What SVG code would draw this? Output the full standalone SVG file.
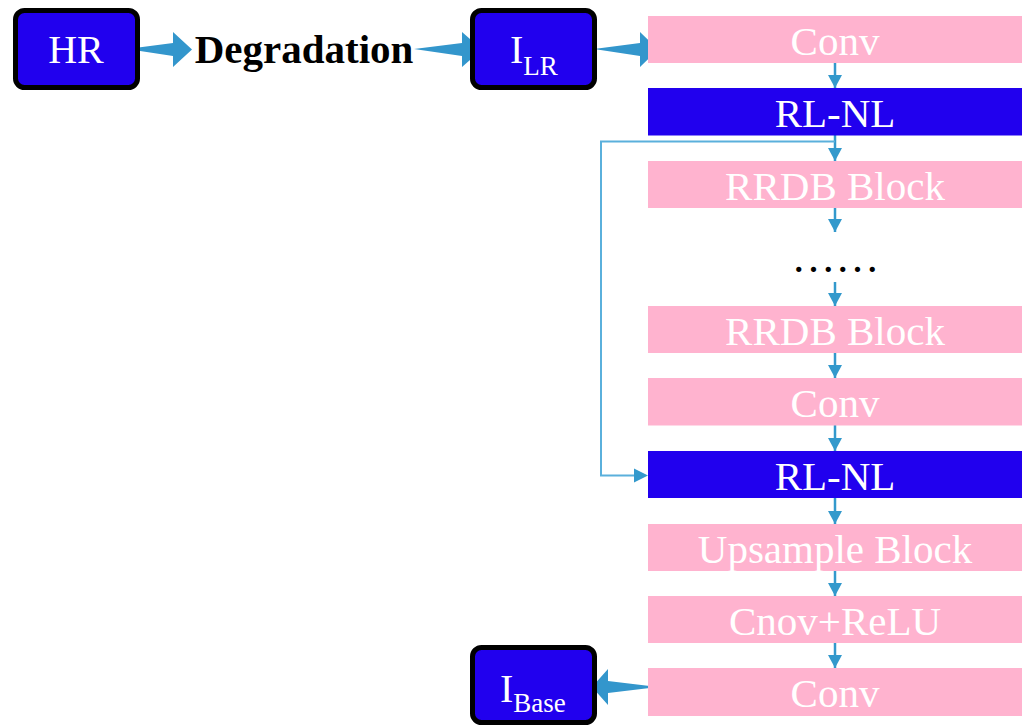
<svg xmlns="http://www.w3.org/2000/svg" width="1032" height="727" viewBox="0 0 1032 727">
<style>
.nb{fill:#2100EE;stroke:#000;stroke-width:5}
.pk{fill:#FFB3CF}
.bl{fill:#2100EE}
.t{font-family:"Liberation Serif","Times New Roman",serif;fill:#fff;text-anchor:middle;font-size:41px}
.ts{font-family:"Liberation Serif","Times New Roman",serif;fill:#fff;font-size:40px}
.sub{font-size:27px}
.big{fill:#3396CC}
.c{stroke:#3399CC;stroke-width:2.5;fill:none}
.sk{stroke:#5AB0DC;stroke-width:2;fill:none}
</style>
<defs>
<marker id="ah" markerUnits="userSpaceOnUse" markerWidth="14" markerHeight="14" refX="13" refY="7" orient="auto">
<path d="M0,0 L13,7 L0,14 z" fill="#3399CC"/>
</marker>
</defs>
<rect width="1032" height="727" fill="#fff"/>
<g id="connectors">
<polygon class="big" points="127,49 173,43 173,32 192,49.5 173,67 173,56"/>
<polygon class="big" points="414,49 462,43 462,32 482,49.5 462,67 462,56"/>
<polygon class="big" points="594,49 640,43 640,32 658,49.5 640,67 640,56"/>
<polygon class="big" points="658,687 608,681 608,669 592,687 608,705 608,693"/>
<line class="c" x1="835" y1="63" x2="835" y2="88" marker-end="url(#ah)"/>
<line class="c" x1="835" y1="135" x2="835" y2="161" marker-end="url(#ah)"/>
<line class="c" x1="835" y1="208" x2="835" y2="232" marker-end="url(#ah)"/>
<line class="c" x1="835" y1="282" x2="835" y2="306" marker-end="url(#ah)"/>
<line class="c" x1="835" y1="353" x2="835" y2="378" marker-end="url(#ah)"/>
<line class="c" x1="835" y1="425" x2="835" y2="451" marker-end="url(#ah)"/>
<line class="c" x1="835" y1="498" x2="835" y2="524" marker-end="url(#ah)"/>
<line class="c" x1="835" y1="571" x2="835" y2="596" marker-end="url(#ah)"/>
<line class="c" x1="835" y1="643" x2="835" y2="668" marker-end="url(#ah)"/>
<path class="sk" d="M835,141.5 H601 V475.5 H634"/>
<path d="M634,468.5 L648,475.5 L634,482.5 z" fill="#3399CC"/>
</g>
<g id="hr">
<rect class="nb" x="15.5" y="10.5" width="122" height="77" rx="9"/>
<text class="t" x="76" y="63" style="font-size:40px">HR</text>
</g>
<g id="degradation">
<text x="304" y="63" style="font-family:'Liberation Serif','Times New Roman',serif;font-weight:bold;font-size:41px;text-anchor:middle;fill:#000">Degradation</text>
</g>
<g id="ilr">
<rect class="nb" x="472.5" y="10.5" width="122" height="77" rx="9"/>
<text class="ts" x="510" y="63">I<tspan class="sub" dy="12">LR</tspan></text>
</g>
<g id="ibase">
<rect class="nb" x="472.5" y="647.5" width="122" height="75" rx="9"/>
<text class="ts" x="500" y="702">I<tspan class="sub" dy="10">Base</tspan></text>
</g>
<g id="conv1"><rect class="pk" x="648" y="16" width="374" height="47"/><text class="t" x="835" y="54.5">Conv</text></g>
<g id="rlnl1"><rect class="bl" x="648" y="88" width="374" height="47.5"/><text class="t" x="835" y="127">RL-NL</text></g>
<g id="rrdb1"><rect class="pk" x="648" y="161" width="374" height="47"/><text class="t" x="835" y="199.5">RRDB Block</text></g>
<g id="dots"><text x="835.5" y="272" style="font-family:'Liberation Serif','Times New Roman',serif;font-size:44px;text-anchor:middle;fill:#000">……</text></g>
<g id="rrdb2"><rect class="pk" x="648" y="306" width="374" height="47"/><text class="t" x="835" y="344.5">RRDB Block</text></g>
<g id="conv2"><rect class="pk" x="648" y="378" width="374" height="47.5"/><text class="t" x="835" y="417">Conv</text></g>
<g id="rlnl2"><rect class="bl" x="648" y="451" width="374" height="47"/><text class="t" x="835" y="489.5">RL-NL</text></g>
<g id="upsample"><rect class="pk" x="648" y="524" width="374" height="47"/><text class="t" x="835" y="562.5">Upsample Block</text></g>
<g id="cnovrelu"><rect class="pk" x="648" y="596" width="374" height="47"/><text class="t" x="835" y="634.5">Cnov+ReLU</text></g>
<g id="conv3"><rect class="pk" x="648" y="668" width="374" height="48"/><text class="t" x="835" y="706.5">Conv</text></g>
</svg>
